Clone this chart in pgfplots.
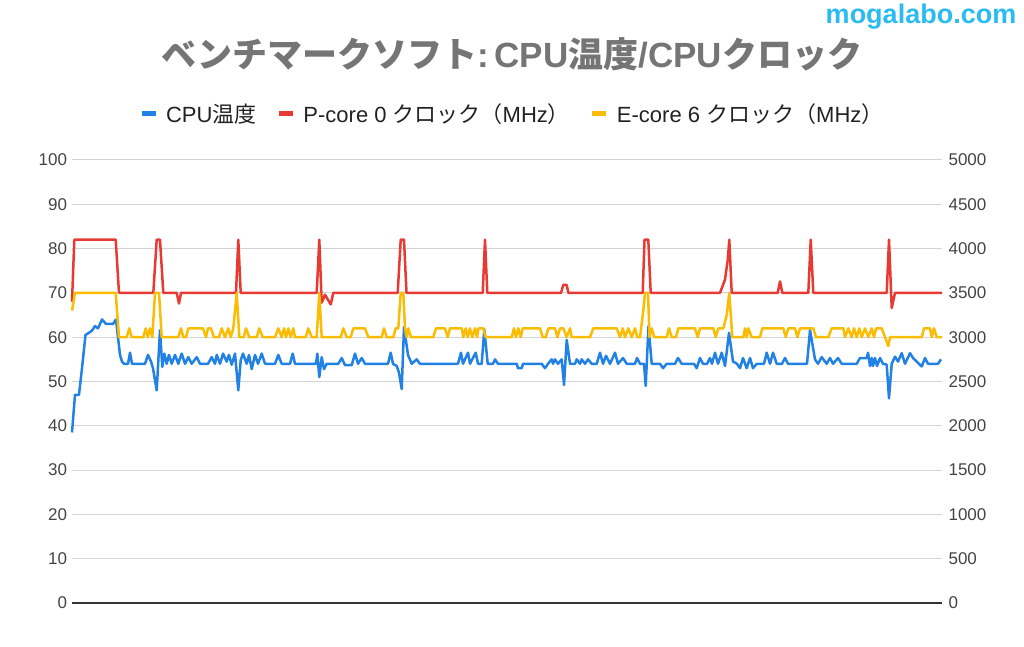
\documentclass[border=0pt]{standalone}
\usepackage{fontspec}
\setmainfont{Liberation Sans}
\newfontfamily\cjk{Noto Sans CJK JP}
\usepackage{pgfplots}
\pgfplotsset{compat=1.18}
\definecolor{cblue}{HTML}{2281E4}
\definecolor{cred}{HTML}{E63A32}
\definecolor{cyellow}{HTML}{FBBC04}
\definecolor{gridgray}{HTML}{D3D3D3}
\definecolor{tickgray}{HTML}{444444}
\definecolor{axisdark}{HTML}{333333}
\definecolor{titlegray}{HTML}{757575}
\definecolor{legtext}{HTML}{222222}
\definecolor{wm}{HTML}{2BBBF0}
\begin{document}
\begin{tikzpicture}
\useasboundingbox (0pt,0pt) rectangle (1024pt,646pt);
\begin{axis}[at={(72pt,43pt)}, anchor=south west, scale only axis,
  width=870pt, height=443pt, xmin=72, xmax=942, ymin=0, ymax=100,
  xtick=\empty, ytick={0,10,...,100},
  axis line style={draw=none}, major tick length=0pt,
  ymajorgrids, grid style={line width=1pt, draw=gridgray},
  ticklabel style={font=\fontsize{17}{20}\selectfont, text=tickgray},
  yticklabel style={xshift=-1.5pt},
  /pgf/number format/assume math mode=true, clip=false]
\addplot[color=cblue, line width=2.5pt, line join=round] coordinates {
(72,38.5)(75,47)(79,47)(82,53)(85.5,60.5)(89,61)(92,61.5)(95,62.5)(98,62)(102,64)(106,63)(110,63)(113,63)(116,64)(118,60)(120,56)(122,54.5)(124,54)(128,54)(130,56.5)(132,54)(145,54)(148,56)(151,54.5)(153,53)(156.7,48)(160,61.6)(162.3,53.3)(164.3,56.3)(166.7,54)(169,56)(171.7,54)(175,56)(178.3,54)(181.7,56.3)(185,54)(188.3,55.5)(191.7,54)(196.7,55.5)(200,54)(208,54)(211.7,55.5)(215,54)(216.7,56)(220,54)(223,56.3)(226.7,54.5)(229,56)(231.7,53.8)(235,56.3)(238.3,48)(240.7,54.8)(243,56.3)(246.7,54)(249,56)(251.7,52.8)(255,56)(258,54)(261.7,56.3)(265,54)(275,54)(278.3,56)(281.7,54)(290,54)(292.7,56.3)(295,54)(316,54)(317.3,56.3)(319.3,51)(321.7,55.5)(324,52.8)(326.7,54)(338.3,54)(341.7,55.3)(345,53.7)(351.7,53.7)(355,56.3)(358,54)(361.7,55.3)(365,54)(388,54)(390.7,56.5)(393,54)(396.7,53.5)(399,52)(401.7,48.3)(404,62.3)(408,56)(411.7,54)(416.7,55)(420,54)(458,54)(461,56.5)(463,54)(468,56.5)(470,54)(475.7,56.5)(478,54)(481.7,54)(484.3,61.8)(487.7,54)(493,54)(495,55)(498,54)(516.7,54)(518,53)(521.7,53)(523,54)(541.7,54)(545,53)(548,54)(551.7,55)(553,54)(555,55)(558,54)(561.7,55)(564,49.2)(566.7,59.4)(570,54)(575,54)(576.7,55)(580,54)(581.7,55)(585,54)(588,55)(591.7,54)(596.7,54)(600,56.5)(603,54)(606,55.8)(610,54)(615,56.5)(618,54)(623,55.3)(626.7,54)(635,54)(637,55.3)(640,54)(644,54)(645.7,49)(648.5,62.5)(651.7,54)(660,54)(663,53)(666.7,54)(675,54)(678,55.3)(681.7,54)(694,54)(696.7,53)(700,55.3)(703,54)(707,54)(710,55.3)(712,54)(715,56.5)(718,54)(721.7,56.5)(725,53.5)(729,61)(733,54.5)(737,54)(740,53)(743,55.3)(746.7,53)(750,55.3)(753,53)(756.7,54)(764,54)(766.7,56.5)(770,54)(773,56.5)(776.7,54)(782,54)(785,55.3)(788,54)(807,54)(810,61.6)(815,55)(818,54)(821.7,55.5)(826.7,54)(830,55.3)(833,54)(838,55.3)(841.7,54)(856.7,54)(860,55.3)(866.7,55.3)(868,56.5)(870,53.5)(871.7,55.3)(873,53.5)(875,55.3)(877,53.5)(880,55.3)(883,54)(886.7,53.8)(889,46.2)(891.7,54)(895,55.6)(898,54.5)(901.7,56.4)(905,54)(910,56.4)(913,55.3)(916.7,54.5)(921.7,53.4)(925,55.3)(928,54)(938,54)(941,55)
};
\draw[color=axisdark, line width=1.3pt] (axis cs:72,0) -- (axis cs:942,0);
\end{axis}
\begin{axis}[at={(72pt,43pt)}, anchor=south west, scale only axis,
  width=870pt, height=443pt, xmin=72, xmax=942, ymin=0, ymax=5000,
  axis y line*=right, axis x line=none,
  xtick=\empty, ytick={0,500,...,5000},
  axis line style={draw=none}, major tick length=0pt,
  ticklabel style={font=\fontsize{17}{20}\selectfont, text=tickgray},
  yticklabel style={xshift=3pt},
  /pgf/number format/1000 sep={},
  /pgf/number format/assume math mode=true, clip=false,
  legend style={at={(0.506,1.104)}, anchor=center, draw=none, fill=none,
    legend columns=3, font=\fontsize{22}{26}\selectfont, text=legtext,
    /tikz/every odd column/.append style={column sep=6pt},
    /tikz/every even column/.append style={column sep=18pt}},
  legend image code/.code={\draw[#1, line width=5pt] (0pt,0pt) -- (14pt,0pt);}]
\addlegendimage{color=cblue}
\addlegendentry{CPU{\cjk 温度}}
\addplot[color=cred, line width=2.5pt, line join=round] coordinates {
(72,3400)(74.3,4100)(115.7,4100)(119,3500)(153.3,3500)(156.7,4100)(160,4100)(163.3,3500)(176.7,3500)(179,3380)(181,3500)(236,3500)(238.3,4100)(240.7,3500)(316.7,3500)(319.3,4100)(321.7,3390)(325,3480)(330.7,3370)(333.3,3500)(397.7,3500)(400.7,4100)(404,4100)(406.5,3500)(482.7,3500)(485,4100)(487.3,3500)(561,3500)(563.3,3590)(566.7,3590)(568.3,3500)(642.7,3500)(644.5,4100)(648.3,4100)(650.7,3500)(720,3500)(725,3650)(727.7,3870)(729.3,4100)(731.7,3500)(777.7,3500)(780,3630)(782.3,3500)(808.3,3500)(810.7,4100)(813.3,3500)(886.7,3500)(889,4100)(891.7,3330)(895,3500)(942,3500)
};
\addlegendentry{P-core 0 {\cjk クロック（}MHz{\cjk ）}}
\addplot[color=cyellow, line width=2.5pt, line join=round] coordinates {
(72,3300)(75,3500)(115.7,3500)(119,3000)(126.7,3000)(129.3,3100)(131.7,3000)(143.3,3000)(145.7,3100)(147.7,3000)(150,3100)(152.3,3000)(155,3500)(159,3500)(161.7,3000)(178.3,3000)(181,3100)(183.3,3000)(186,3000)(188.3,3100)(203,3100)(206,3000)(208,3100)(211,3100)(214,3000)(219,3000)(221.7,3100)(225,3000)(228.3,3100)(230.7,3000)(233.3,3100)(236.7,3500)(239.3,3000)(243.7,3000)(246,3100)(249.3,3000)(256.7,3000)(259.3,3100)(262.7,3000)(275,3000)(278.3,3100)(281.7,3000)(284,3100)(286,3000)(288.3,3100)(290.7,3000)(293.3,3100)(295,3000)(305.7,3000)(308.3,3100)(311.7,3000)(316.7,3000)(319.3,3500)(321.7,3000)(340.7,3000)(343.3,3100)(346.7,3000)(350.7,3000)(353.3,3100)(365,3100)(368.3,3000)(381.7,3000)(384,3100)(386.7,3000)(393.3,3000)(395.7,3100)(398.3,3100)(400.7,3500)(403.3,3500)(405,3100)(406.7,3000)(408.3,3100)(411,3000)(433.3,3000)(436,3100)(445,3100)(447.7,3000)(450,3100)(461.7,3100)(463.3,3000)(465.7,3100)(467.7,3000)(470,3100)(472.3,3000)(475,3100)(477,3000)(478.5,3100)(483.3,3100)(485.7,3000)(511.7,3000)(514,3100)(516,3000)(518.3,3100)(520.7,3000)(522.7,3100)(540,3100)(542.7,3000)(545.7,3000)(548.3,3100)(555,3100)(557.3,3000)(560,3100)(563.3,3100)(566.7,3000)(570,3100)(571.7,3000)(590,3000)(593.3,3100)(616.7,3100)(620,3000)(622.7,3100)(625,3000)(628.3,3100)(631.7,3000)(635,3100)(637.3,3000)(640,3000)(643.3,3300)(645,3500)(648,3500)(649.5,3000)(651.7,3100)(654.3,3000)(666.7,3000)(669,3100)(671.7,3000)(676,3000)(678.3,3100)(695,3100)(697.7,3000)(700,3100)(713.3,3100)(715.7,3000)(718.3,3100)(723.3,3100)(726.7,3250)(729.3,3500)(732.3,3000)(743.3,3000)(745,3100)(746.7,3000)(748.3,3100)(751.7,3000)(760,3000)(762.3,3100)(783.3,3100)(785.7,3000)(788.3,3100)(795,3100)(797.3,3000)(800,3100)(813.3,3100)(816,3000)(828.3,3000)(831.7,3100)(843.3,3100)(845,3000)(848.3,3100)(851.7,3000)(854,3100)(856.7,3000)(859.3,3100)(861.7,3000)(865,3100)(868.3,3000)(871.7,3100)(874,3000)(876,3100)(881.7,3100)(885,3000)(888.3,2900)(890,3000)(921.7,3000)(924,3100)(930,3100)(931.7,3000)(934,3100)(936.7,3000)(942,3000)
};
\addlegendentry{E-core 6 {\cjk クロック（}MHz{\cjk ）}}
\end{axis}
\node[font=\fontsize{35}{40}\selectfont\bfseries, text=titlegray] at (512pt,592pt)
  {{\cjk ベンチマークソフト}:\,CPU{\cjk 温度}/CPU{\cjk クロック}};
\node[font=\fontsize{27}{30}\selectfont\bfseries, text=wm] at (921pt,629pt) {mogalabo.com};
\end{tikzpicture}
\end{document}
